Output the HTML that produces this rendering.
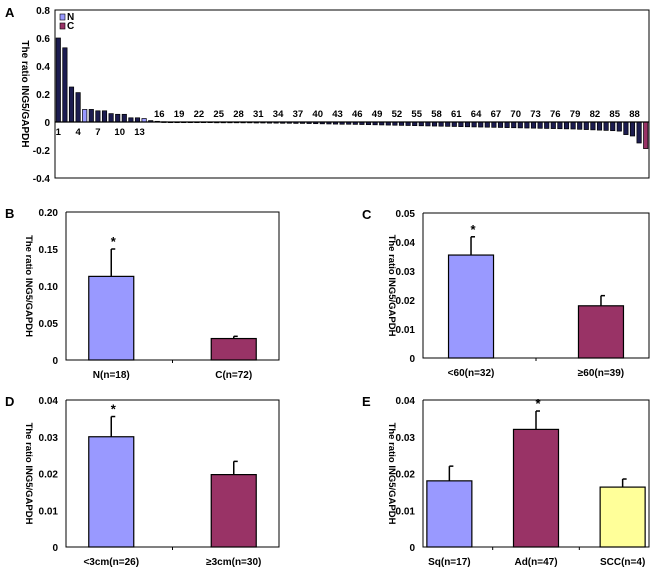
<!DOCTYPE html>
<html><head><meta charset="utf-8">
<style>
body{margin:0;background:#fff;}
svg{display:block;font-family:"Liberation Sans",Arial,sans-serif;font-weight:bold;}
</style></head>
<body>
<svg id="fig" width="650" height="579" viewBox="0 0 650 579" xmlns="http://www.w3.org/2000/svg"></svg>
<script>
// Panel A data
const aValues = [0.60,0.53,0.25,0.21,0.09,0.09,0.08,0.08,0.06,0.055,0.055,0.03,0.03,0.025,0.01,0.005,0.002,0.001,0.001,0.001,0.001,0.001,0.001,0.001,-0.003,-0.004,-0.005,-0.005,-0.006,-0.006,-0.007,-0.007,-0.008,-0.008,-0.009,-0.009,-0.010,-0.010,-0.011,-0.012,-0.013,-0.014,-0.015,-0.016,-0.016,-0.017,-0.018,-0.019,-0.020,-0.021,-0.022,-0.023,-0.024,-0.025,-0.026,-0.027,-0.028,-0.029,-0.030,-0.031,-0.032,-0.033,-0.034,-0.035,-0.036,-0.037,-0.038,-0.039,-0.040,-0.041,-0.042,-0.043,-0.044,-0.045,-0.046,-0.047,-0.048,-0.049,-0.050,-0.052,-0.054,-0.056,-0.058,-0.060,-0.062,-0.065,-0.09,-0.10,-0.15,-0.19];
const aGroups = aValues.map((v,i)=> (i===4||i===13) ? 'N' : (i===89?'C':'D'));
const aTicks = [0.8,0.6,0.4,0.2,0,-0.2,-0.4];
const aTickLabels = ['0.8','0.6','0.4','0.2','0','-0.2','-0.4'];
// Panel B
const bCats = ['N(n=18)','C(n=72)'];
const bVals = [0.113,0.029];
const bErr = [0.150,0.032];
const bTicks = [0,0.05,0.10,0.15,0.20];
const bTickLabels = ['0','0.05','0.10','0.15','0.20'];
// Panel C
const cCats = ['<60(n=32)','≥60(n=39)'];
const cVals = [0.0355,0.018];
const cErr = [0.0418,0.0215];
// Panel D
const dCats = ['<3cm(n=26)','≥3cm(n=30)'];
const dVals = [0.030,0.0197];
const dErr = [0.0355,0.0233];
// Panel E
const eCats = ['Sq(n=17)','Ad(n=47)','SCC(n=4)'];
const eVals = [0.018,0.032,0.0163];
const eErr = [0.022,0.037,0.0185];
const smallTicks = [0,0.01,0.02,0.03,0.04];
const cTicks = [0,0.01,0.02,0.03,0.04,0.05];

const NS='http://www.w3.org/2000/svg';
const svg=document.getElementById('fig');
function mk(tag,attrs,parent){const e=document.createElementNS(NS,tag);for(const k in attrs)e.setAttribute(k,attrs[k]);(parent||svg).appendChild(e);return e;}
function txt(s,x,y,size,anchor,parent){const t=mk('text',{x:x,y:y,'font-size':size,'text-anchor':anchor||'middle',fill:'#000'},parent);t.textContent=s;return t;}

// Panel A
(function(){
  const L=55,R=649,T=10,B=178,vmin=-0.4,vmax=0.8;
  const y=v=>T+(vmax-v)/(vmax-vmin)*(B-T);
  const step=(R-L)/aValues.length;
  const x=i=>L+step*i+step/2;
  const g=mk('g',{});
  
  
  const lab=txt('A',5,17,13,'start',g);
  
  const box=mk('rect',{x:L,y:T,width:R-L,height:B-T,fill:'none',stroke:'#000','stroke-width':1},g);
  
  aTicks.forEach((t,i)=>{const e=txt(aTickLabels[i],50,y(t)+4,10,'end',g);});
  const yt=txt('The ratio ING5/GAPDH',0,0,10,'middle',g);
  yt.setAttribute('transform',`translate(22,${(T+B)/2}) rotate(90)`);
  
  const colors={N:'#9999ff',C:'#993366',D:'#1c1c50'};
  aValues.forEach((v,i)=>{
    const y0=y(0),yv=y(v);
    const r=mk('rect',{x:x(i)-2.2,y:Math.min(y0,yv),width:4.4,height:Math.max(0.8,Math.abs(yv-y0)),fill:colors[aGroups[i]],stroke:'#000','stroke-width':0.7},g);
    
  });
  const zl=mk('line',{x1:L,x2:R,y1:y(0),y2:y(0),stroke:'#000','stroke-width':1.2},g);
  
  for(let i=0;i<aValues.length;i+=3){
    const below=i<13;
    const e=txt(String(i+1),x(i)+ (i+1>=10?2:0),below?y(0)+13:y(0)-5,9.5,'middle',g);
    
  }
  const l1=mk('rect',{x:60,y:14,width:5,height:6,fill:'#9999ff',stroke:'#000','stroke-width':0.6},g);
  
  const t1=txt('N',67,20,10,'start',g);
  const l2=mk('rect',{x:60,y:23,width:5,height:6,fill:'#993366',stroke:'#000','stroke-width':0.6},g);
  
  const t2=txt('C',67,29,10,'start',g);
})();

function barPanel(opt){
  const {name,letter,L,R,T,B,vmax,ticks,tickLabels,cats,vals,errs,fills,star,titleX}=opt;
  const g=mk('g',{});
  
  
  const y=v=>B-(v/vmax)*(B-T);
  const n=cats.length,W=R-L,spread=1.15;
  const cx=i=>L+W*(0.5+(i-(n-1)/2)*spread/n);
  const lab=txt(letter,L-61,T+6,13,'start',g);
  
  const pl=mk('polyline',{points:`${L},${T} ${R},${T} ${R},${B} ${L},${B} ${L},${T}`,fill:'none',stroke:'#000','stroke-width':1},g);
  
  ticks.forEach((t,i)=>{const e=txt(tickLabels[i],L-8,y(t)+4,10,'end',g);});
  const yt=txt('The ratio ING5/GAPDH',0,0,9.5,'middle',g);
  yt.setAttribute('transform',`translate(${titleX},${(T+B)/2}) rotate(90)`);
  
  for(let i=0;i<n-1;i++){
    const m=(cx(i)+cx(i+1))/2;
    const tk=mk('line',{x1:m,x2:m,y1:B,y2:B+3,stroke:'#000','stroke-width':1},g);
    
  }
  vals.forEach((v,i)=>{
    const bw=45;
    const el=mk('line',{x1:cx(i),x2:cx(i),y1:y(v),y2:y(errs[i]),stroke:'#000','stroke-width':1.5},g);
    
    const cap=mk('line',{x1:cx(i),x2:cx(i)+4,y1:y(errs[i]),y2:y(errs[i]),stroke:'#000','stroke-width':1.5},g);
    
    const r=mk('rect',{x:cx(i)-bw/2,y:y(v),width:bw,height:B-y(v),fill:fills[i],stroke:'#000','stroke-width':1.2},g);
    
    const c=txt(cats[i],cx(i),B+18,10,'middle',g);
    
    if(star===i){const s=txt('*',cx(i)+2,y(errs[i])-3,13,'middle',g);}
  });
}
const P='#9999ff',M='#993366',Yl='#ffff99';
barPanel({name:'panel-b',letter:'B',L:66,R:279,T:212,B:360,vmax:0.20,ticks:bTicks,tickLabels:bTickLabels,cats:bCats,vals:bVals,errs:bErr,fills:[P,M],star:0,titleX:26});
barPanel({name:'panel-c',letter:'C',L:423,R:649,T:213,B:358,vmax:0.05,ticks:cTicks,tickLabels:['0','0.01','0.02','0.03','0.04','0.05'],cats:cCats,vals:cVals,errs:cErr,fills:[P,M],star:0,titleX:389});
barPanel({name:'panel-d',letter:'D',L:66,R:279,T:400,B:547,vmax:0.04,ticks:smallTicks,tickLabels:['0','0.01','0.02','0.03','0.04'],cats:dCats,vals:dVals,errs:dErr,fills:[P,M],star:0,titleX:26});
barPanel({name:'panel-e',letter:'E',L:423,R:649,T:400,B:547,vmax:0.04,ticks:smallTicks,tickLabels:['0','0.01','0.02','0.03','0.04'],cats:eCats,vals:eVals,errs:eErr,fills:[P,M,Yl],star:1,titleX:389});
</script>
</body></html>
